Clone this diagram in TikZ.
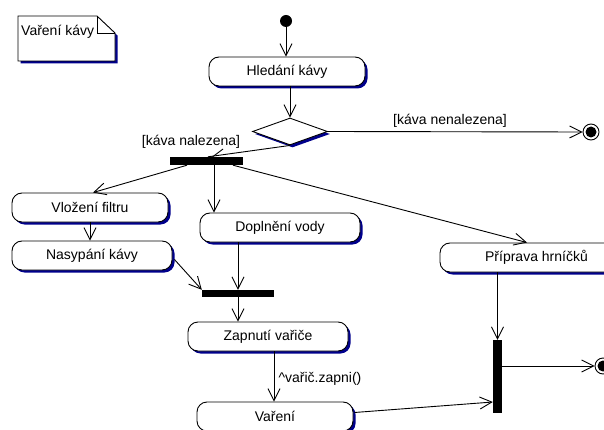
\documentclass[tikz,border=0pt]{standalone}
\usepackage{fontspec}
\setmainfont{Liberation Sans}
\usetikzlibrary{arrows.meta,shadows,shapes.geometric}
\definecolor{shadowblue}{RGB}{0,0,140}
\tikzset{
  base/.style={line width=0.9pt},
  shad/.style={drop shadow={fill=shadowblue, opacity=1, shadow xshift=2.5pt, shadow yshift=-2.5pt}},
  act/.style={base, draw, fill=white, rounded corners=10pt, minimum height=29pt, inner sep=0pt, shad},
  bar/.style={fill=black, draw=none, inner sep=0pt},
  arr/.style={base, -{Straight Barb[length=12pt,width=12pt,line width=0.9pt]}},
  ln/.style={base},
  lbl/.style={inner sep=0pt},
}
\begin{document}
\begin{tikzpicture}[x=1pt,y=-1pt,font=\fontsize{14}{16}\selectfont]
\useasboundingbox (0,0) rectangle (604,430);
\fill[white] (0,0) rectangle (604,430);
\clip (0,0) rectangle (604,430);

% note
\path[base, draw, fill=white, shad] (18,16) -- (97,16) -- (115,33) -- (115,61) -- (18,61) -- cycle;
\draw[base] (97,16) -- (97,33) -- (115,33);
\node[lbl, anchor=west] (notetext) at (21,32) {Vaření kávy};

% states
\node[circle, fill=black, inner sep=0pt, minimum size=12pt] (init) at (286,21) {};
\node[act, minimum width=156pt] (hledani) at (287,71.5) {Hledání kávy};
\node[diamond, base, draw, fill=white, shad, minimum width=75pt, minimum height=27pt, inner sep=0pt, aspect=2.8] (dec) at (290,131.5) {};
\node[circle, base, draw, fill=white, inner sep=0pt, minimum size=16pt] (fin1) at (591,132) {};
\fill[black] (fin1.center) circle (5.5pt);
\node[bar, minimum width=73pt, minimum height=8pt] (fork) at (206.5,161) {};
\node[act, minimum width=156pt] (vlozeni) at (90,207.5) {Vložení filtru};
\node[act, minimum width=160pt] (nasypani) at (92,255.5) {Nasypání kávy};
\node[act, minimum width=160pt] (doplneni) at (280,227.5) {Doplnění vody};
\node[act, minimum width=193pt] (priprava) at (536.5,257.5) {Příprava hrníčků};
\node[bar, minimum width=72pt, minimum height=7pt] (join) at (238,293.5) {};
\node[act, minimum width=160pt] (zapnuti) at (268,336.5) {Zapnutí vařiče};
\node[act, minimum width=156pt] (vareni) at (275,416.5) {Vaření};
\node[bar, minimum width=9pt, minimum height=73pt] (join3) at (497.5,376.5) {};
\node[circle, base, draw, fill=white, inner sep=0pt, minimum size=16pt] (fin2) at (603,366) {};
\fill[black] (fin2.center) circle (5.5pt);

% transitions
\draw[arr] (init) -- (hledani.north -| init);
\draw[arr] (hledani.south -| dec.north) -- (dec.north);
\draw[arr] (dec.east) -- (fin1.west);
\node[lbl] (lnenal) at (450,121) {[káva nenalezena]};
\draw[ln] (dec.south) -- ([xshift=1.5pt]fork.north);
\node[lbl] (lnal) at (191,142) {[káva nalezena]};
\draw[ln] ([xshift=32pt,yshift=-7pt]lnal.center) -- ([xshift=3.5pt,yshift=-2pt]fork.north);
\draw[arr] ([xshift=-19.5pt]fork.south) -- ([xshift=3pt]vlozeni.north);
\draw[arr] ([xshift=7.5pt]fork.south) -- ([xshift=7.5pt]fork.south |- doplneni.north);
\draw[arr] ([xshift=26.5pt]fork.south) -- ([xshift=-9.5pt]priprava.north);
\draw[arr] (vlozeni.south) -- (vlozeni.south |- nasypani.north);
\draw[arr] ([xshift=2pt,yshift=-4pt]nasypani.east) -- (join.north west);
\draw[arr] (join.north |- doplneni.south) -- (join.north);
\draw[arr] (join.south) -- (join.south |- zapnuti.north);
\draw[arr] ([xshift=6pt]zapnuti.south) -- ([xshift=6pt]zapnuti.south |- vareni.north);
\node[lbl] (lzap) at (320,379) {\textasciicircum vařič.zapni()};
\draw[arr] (join3.north |- priprava.south) -- (join3.north);
\draw[arr] ([xshift=1pt,yshift=4pt]vareni.east) -- ([yshift=-25.5pt]join3.west);
\draw[arr] ([yshift=10.5pt]join3.east) -- (fin2.west);
\end{tikzpicture}
\end{document}
